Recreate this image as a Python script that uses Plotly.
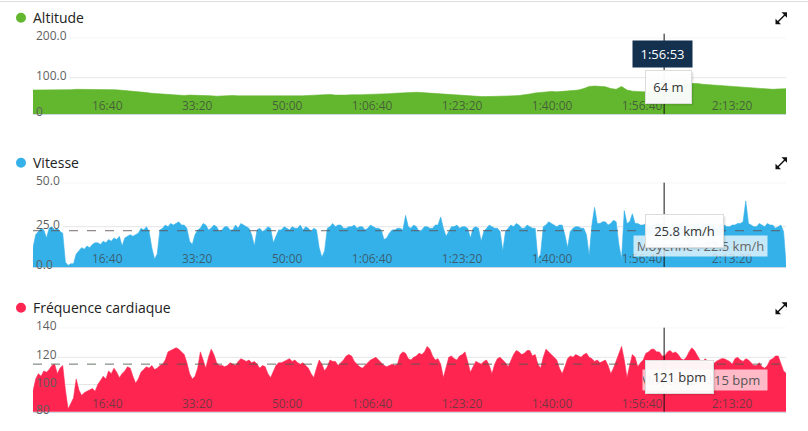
import plotly.graph_objects as go

W, H = 808, 431

# ---------------- data ----------------
ALT_STEP_S = 60     # altitude sampled every minute
FAST_STEP_S = 30    # speed / heart rate sampled every 30 s

altitude_m = [
    66, 66, 65, 66, 67, 67, 66, 67, 68, 68,
    68, 69, 68, 68, 67, 67, 66, 65, 63, 62,
    60, 59, 57, 56, 54, 53, 53, 52, 51, 52,
    51, 50, 51, 50, 49, 50, 50, 51, 50, 50,
    50, 49, 50, 50, 49, 49, 50, 48, 49, 50,
    50, 51, 52, 54, 55, 54, 52, 51, 52, 53,
    52, 53, 54, 54, 55, 55, 56, 57, 58, 59,
    59, 60, 59, 58, 58, 57, 56, 54, 52, 51,
    51, 50, 49, 48, 48, 48, 49, 48, 49, 50,
    51, 52, 55, 58, 60, 62, 62, 61, 62, 63,
    64, 66, 70, 76, 77, 76, 75, 70, 68, 76,
    66, 63, 61, 61, 62, 63, 64, 64, 70, 76,
    80, 84, 85, 84, 82, 81, 80, 78, 76, 75,
    74, 73, 72, 71, 70, 69, 69, 68, 69, 70,
    70,
]

speed_kmh = [
    12, 20, 22, 24, 23, 18, 24, 25, 23, 24,
    22, 21, 3, 1, 2, 2, 8, 10, 12, 11,
    13, 12, 14, 15, 15, 14, 16, 15, 17, 16,
    18, 17, 19, 13, 18, 19, 20, 19, 20, 21,
    24, 23, 25, 22, 12, 5, 8, 23, 24, 26,
    25, 27, 26, 27, 28, 26, 26, 24, 16, 14,
    20, 23, 24, 27, 26, 23, 24, 26, 25, 22,
    23, 25, 25, 23, 23, 26, 24, 27, 26, 25,
    24, 20, 13, 23, 24, 22, 23, 25, 24, 15,
    19, 23, 23, 25, 24, 23, 25, 24, 24, 26,
    23, 25, 24, 22, 24, 23, 12, 6, 10, 24,
    25, 27, 25, 26, 26, 24, 24, 25, 25, 26,
    24, 25, 25, 23, 24, 26, 25, 24, 24, 23,
    17, 18, 21, 23, 23, 24, 24, 23, 32, 25,
    24, 26, 25, 22, 23, 25, 25, 24, 24, 26,
    26, 31, 24, 19, 22, 25, 25, 26, 24, 25,
    25, 24, 18, 24, 25, 24, 16, 22, 24, 26,
    25, 24, 24, 22, 10, 22, 24, 26, 25, 27,
    26, 24, 24, 26, 25, 24, 24, 5, 8, 25,
    26, 28, 27, 26, 25, 26, 26, 20, 12, 22,
    24, 25, 25, 24, 24, 20, 7, 26, 37, 27,
    27, 28, 28, 26, 27, 29, 28, 14, 5, 35,
    27, 28, 33, 27, 27, 26, 26, 27, 25, 26,
    26, 27, 27, 26, 26, 25, 25, 27, 26, 25,
    27, 26, 26, 23, 24, 26, 27, 25, 26, 27,
    27, 26, 26, 24, 25, 27, 26, 25, 25, 26,
    26, 27, 27, 28, 41, 27, 26, 25, 25, 27,
    26, 25, 27, 26, 26, 24, 25, 26, 22, 0,
    0,
]

heart_bpm = [
    95, 104, 108, 106, 110, 109, 111, 114, 115, 108,
    112, 114, 96, 82, 86, 90, 104, 96, 92, 94,
    95, 96, 97, 95, 100, 103, 106, 104, 110, 108,
    112, 109, 105, 108, 110, 113, 112, 106, 101, 104,
    109, 111, 113, 112, 114, 111, 112, 114, 115, 118,
    124, 125, 126, 127, 126, 124, 122, 116, 108, 104,
    106, 112, 124, 118, 112, 120, 126, 122, 116, 114,
    114, 113, 114, 116, 115, 114, 117, 119, 118, 117,
    118, 116, 117, 115, 112, 114, 113, 108, 105, 110,
    114, 116, 116, 117, 118, 119, 117, 118, 116, 115,
    116, 114, 112, 108, 105, 112, 118, 115, 110, 113,
    118, 117, 117, 114, 116, 118, 121, 122, 121, 117,
    115, 113, 112, 114, 116, 118, 119, 120, 118, 116,
    114, 113, 114, 115, 114, 115, 122, 124, 123, 119,
    118, 120, 121, 123, 122, 124, 128, 126, 121, 118,
    119, 115, 105, 112, 120, 121, 119, 118, 121, 122,
    124, 117, 109, 113, 117, 116, 115, 117, 118, 114,
    108, 115, 119, 120, 118, 116, 113, 118, 122, 125,
    124, 122, 123, 125, 125, 121, 122, 115, 112, 120,
    126, 124, 122, 120, 118, 112, 108, 113, 119, 121,
    120, 122, 121, 120, 122, 123, 120, 119, 117, 118,
    116, 117, 118, 114, 108, 112, 117, 122, 128, 118,
    105, 114, 122, 120, 113, 116, 118, 123, 124, 126,
    126, 124, 124, 121, 121, 124, 125, 123, 124, 122,
    119, 118, 120, 124, 127, 125, 121, 118, 117, 119,
    117, 116, 115, 117, 118, 119, 119, 118, 117, 115,
    119, 120, 118, 117, 119, 118, 116, 114, 114, 116,
    113, 112, 114, 118, 119, 121, 121, 116, 110, 108,
    108,
]

alt_time_s = [ALT_STEP_S * i for i in range(len(altitude_m))]
speed_time_s = [FAST_STEP_S * i for i in range(len(speed_kmh))]
hr_time_s = [FAST_STEP_S * i for i in range(len(heart_bpm))]

tick_seconds = [1000, 2000, 3000, 4000, 5000, 6000, 7000, 8000]
tick_labels = ["16:40", "33:20", "50:00", "1:06:40", "1:23:20", "1:40:00", "1:56:40", "2:13:20"]

panel_titles = ["Altitude", "Vitesse", "Fréquence cardiaque"]
panel_colors = ["#63b72f", "#35b1ea", "#fe2651"]

alt_axis_labels = ["0", "100.0", "200.0"]
speed_axis_labels = ["0.0", "25.0", "50.0"]
hr_axis_labels = ["80", "100", "120", "140"]

cursor_time_s = 7013
cursor_time_label = "1:56:53"
cursor_values = ["64 m", "25.8 km/h", "121 bpm"]

avg_speed_kmh = 22.5
avg_hr_bpm = 115
avg_labels = ["Moyenne : 22.5 km/h", "Moyenne : 115 bpm"]

# ---------------- layout helpers ----------------
X_LEFT, X_RIGHT = 33, 786
X_MAX = 8367

def px(x):
    return x / W

def py(y):
    return 1 - y / H

panels = [
    dict(top=37.7, bottom=114.0, rng=[0, 210.2], label_vals=[0, 100, 210.2],
         labels=alt_axis_labels, grid=[100, 210.2], grid_x0=69, title_y=17.7,
         x=alt_time_s, series=altitude_m),
    dict(top=182.7, bottom=267.0, rng=[0, 52.3], label_vals=[0, 25, 52.3],
         labels=speed_axis_labels, grid=[25, 52.3], grid_x0=63, title_y=162.7,
         x=speed_time_s, series=speed_kmh),
    dict(top=327.7, bottom=411.7, rng=[80, 141.8], label_vals=[80, 100, 120, 141.8],
         labels=hr_axis_labels, grid=[100, 120, 141.8], grid_x0=58, title_y=307.7,
         x=hr_time_s, series=heart_bpm),
]

fig = go.Figure()
shapes = []
annotations = []
FONT = "Open Sans"

for k, p in enumerate(panels):
    n = "" if k == 0 else str(k + 1)
    xa, ya = "x" + n, "y" + n
    col = panel_colors[k]
    fig.add_trace(go.Scatter(
        x=p["x"], y=p["series"], xaxis=xa, yaxis=ya, mode="lines",
        line=dict(color=col, width=0.6), fill="tozeroy", fillcolor=col,
        hoverinfo="skip", showlegend=False,
    ))
    fig.layout["xaxis" + n] = dict(
        domain=[px(X_LEFT), px(X_RIGHT)], range=[0, X_MAX], anchor=ya,
        tickvals=tick_seconds, ticktext=tick_labels, ticks="",
        ticklabelposition="inside left", ticklabelstandoff=-2,
        showgrid=False, zeroline=False,
        showline=True, linecolor="#c9d6e3", linewidth=1,
        tickfont=dict(family=FONT, size=12, color="rgba(60,60,60,0.72)"),
        fixedrange=True,
    )
    fig.layout["yaxis" + n] = dict(
        domain=[py(p["bottom"]), py(p["top"])], range=p["rng"], anchor=xa,
        showgrid=False, zeroline=False, showticklabels=False, ticks="",
        showline=False, fixedrange=True,
    )
    for g in p["grid"]:
        shapes.append(dict(type="line", xref="paper", yref=ya, x0=px(p["grid_x0"]),
                           x1=px(X_RIGHT), y0=g, y1=g, layer="below",
                           line=dict(color="#e6e6e6", width=1)))
    for v, t in zip(p["label_vals"], p["labels"]):
        annotations.append(dict(text=t, xref="paper", yref=ya, x=px(34), y=v,
                                xanchor="left", yanchor="middle", yshift=2.5,
                                showarrow=False,
                                font=dict(family=FONT, size=12, color="#5f5f5f")))
    shapes.append(dict(type="circle", xref="paper", yref="paper",
                       x0=px(16), x1=px(26), y0=py(p["title_y"] + 5), y1=py(p["title_y"] - 5),
                       fillcolor=col, line=dict(width=0)))
    annotations.append(dict(text=panel_titles[k], xref="paper", yref="paper",
                            x=px(31), y=py(p["title_y"]), xanchor="left", yanchor="middle",
                            showarrow=False, font=dict(family=FONT, size=14, color="#222222")))
    cy = p["title_y"]
    pts = lambda lst: "M " + " L ".join(f"{px(a):.5f},{py(b):.5f}" for a, b in lst) + " Z"
    shapes.append(dict(type="line", xref="paper", yref="paper",
                       x0=px(777), y0=py(cy + 5), x1=px(785.5), y1=py(cy - 3.5),
                       line=dict(color="#111", width=1.5)))
    shapes.append(dict(type="path", xref="paper", yref="paper",
                       path=pts([(787, cy - 5.5), (781.5, cy - 5.5), (787, cy)]),
                       fillcolor="#111", line=dict(width=0)))
    shapes.append(dict(type="path", xref="paper", yref="paper",
                       path=pts([(775.5, cy + 6.5), (781, cy + 6.5), (775.5, cy + 1)]),
                       fillcolor="#111", line=dict(width=0)))
    shapes.append(dict(type="line", xref=xa, yref="paper", x0=cursor_time_s, x1=cursor_time_s,
                       y0=py(p["bottom"]), y1=py(p["top"] - (4 if k == 0 else 0)),
                       line=dict(color="#111", width=1)))

shapes.append(dict(type="line", xref="paper", yref="y2", x0=px(X_LEFT), x1=px(X_RIGHT),
                   y0=avg_speed_kmh, y1=avg_speed_kmh, layer="above",
                   line=dict(color="rgba(90,80,80,0.85)", width=1, dash="dash")))
shapes.append(dict(type="line", xref="paper", yref="y3", x0=px(X_LEFT), x1=px(X_RIGHT),
                   y0=avg_hr_bpm, y1=avg_hr_bpm, layer="above",
                   line=dict(color="rgba(80,90,80,0.85)", width=1, dash="dash")))

shapes.append(dict(type="line", xref="paper", yref="paper", x0=0, x1=1, y0=py(1.5), y1=py(1.5),
                   line=dict(color="#dddddd", width=1)))


def box(text, left, top, w, h, bg, color, border=None, size=13, align="center"):
    return dict(text=text, xref="paper", yref="paper", x=px(left), y=py(top),
                xanchor="left", yanchor="top", width=w, height=h, showarrow=False,
                align=align, valign="middle", bgcolor=bg, borderpad=0,
                bordercolor=border if border else "rgba(0,0,0,0)", borderwidth=1,
                font=dict(family=FONT, size=size, color=color))

annotations.append(box(avg_labels[0], 633, 235, 133, 20, "rgba(255,255,255,0.72)", "#666666"))
annotations.append(box(avg_labels[1] + "\u00a0\u00a0", 642, 369, 124, 20,
                       "rgba(255,255,255,0.68)", "#555555", align="right"))

annotations.append(box(cursor_time_label, 632, 40, 59, 26, "#13304f", "#ffffff"))
for (left, top, w, h), txt in zip([(645, 70, 45, 32), (645, 214, 77, 32), (645, 360, 67, 32)],
                                  cursor_values):
    annotations.append(box(" ", left + 2, top + 2, w, h, "rgba(0,0,0,0.10)", "#000"))
    annotations.append(box(txt, left, top, w, h, "rgba(255,255,255,0.95)", "#333333",
                           border="#dcdcdc"))

fig.update_layout(
    width=W, height=H, margin=dict(l=0, r=0, t=0, b=0),
    paper_bgcolor="white", plot_bgcolor="rgba(0,0,0,0)",
    shapes=shapes, annotations=annotations, showlegend=False,
    font=dict(family=FONT),
)

fig.write_html("out.html", config={"displayModeBar": False},
               post_script="document.body.style.margin='0';document.body.style.padding='0';"
                           "document.documentElement.style.overflow='hidden';")
